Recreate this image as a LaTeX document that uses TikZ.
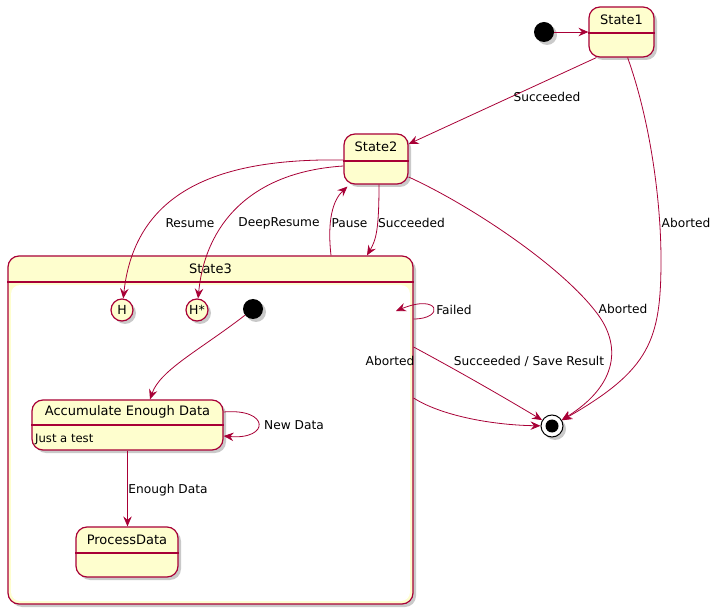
\documentclass[tikz,border=0pt]{standalone}
\usepackage{fontspec}
\setmainfont{DejaVu Sans}
\usetikzlibrary{arrows.meta,shadows,calc}
\definecolor{pfill}{HTML}{FEFECE}
\definecolor{pline}{HTML}{A80036}
\begin{document}
\begin{tikzpicture}[x=1pt,y=-1pt,
  shad/.style={drop shadow={shadow xshift=3pt,shadow yshift=-3pt,opacity=0.35,fill=black!60}},
  statebox/.style={draw=pline,line width=1.2pt,fill=pfill,rounded corners=11pt,inner sep=0pt,shad},
  divider/.style={draw=pline,line width=1.2pt},
  sname/.style={font=\fontsize{13}{15}\selectfont,inner sep=0pt},
  elabel/.style={font=\fontsize{12.2}{14}\selectfont,inner sep=0pt},
  conn/.style={draw=pline,line width=0.8pt,-{Stealth[length=10pt,width=8.5pt,inset=3.5pt]}},
  startdot/.style={circle,fill=black,minimum size=20pt,inner sep=0pt,shad},
  hist/.style={circle,draw=pline,line width=1.2pt,fill=pfill,minimum size=22pt,inner sep=0pt,font=\fontsize{12.5}{14}\selectfont,shad},
]
\useasboundingbox (0,0) rectangle (718,612);

% composite State3
\node[statebox,minimum width=405pt,minimum height=348pt] (s3) at (210.5,430) {};
\fill[white,rounded corners=9pt] (11,285) rectangle (410,601);
\draw[divider] (s3.west |- 0,282) -- (s3.east |- 0,282);
\node[sname] (s3t) at (210.5,269) {State3};

% State1
\node[statebox,minimum width=65pt,minimum height=50pt] (s1) at (621.5,32) {};
\draw[divider] (s1.west |- 0,33) -- (s1.east |- 0,33);
\node[sname] (s1t) at (621.5,20) {State1};

% State2
\node[statebox,minimum width=64pt,minimum height=50pt] (s2) at (376,159) {};
\draw[divider] (s2.west |- 0,161) -- (s2.east |- 0,161);
\node[sname] (s2t) at (376,147) {State2};

% Accumulate Enough Data
\node[statebox,minimum width=191pt,minimum height=50pt] (acc) at (127.5,425) {};
\draw[divider] (acc.west |- 0,425) -- (acc.east |- 0,425);
\node[sname] (acct) at (127.5,412) {Accumulate Enough Data};
\node[font=\fontsize{11.6}{13}\selectfont,inner sep=0pt,anchor=west] (accd) at (35,439) {Just a test};

% ProcessData
\node[statebox,minimum width=102pt,minimum height=50pt] (proc) at (127,552) {};
\draw[divider] (proc.west |- 0,553) -- (proc.east |- 0,553);
\node[sname] (proct) at (127,540) {ProcessData};

% pseudo states
\node[startdot] (i0) at (544,32) {};
\node[startdot] (i1) at (253,309) {};
\node[hist] (h) at (122,310) {H};
\node[hist] (hs) at (197,310) {H*};
\node[circle,draw=black,line width=1pt,fill=white,minimum size=22pt,inner sep=0pt,shad] (fin) at (552,426) {};
\node[circle,fill=black,minimum size=13pt,inner sep=0pt] (finc) at (fin) {};
\coordinate (floop) at (396,311);

% connectors
\draw[conn] (i0) -- (s1);
\draw[conn] ([xshift=8pt]s1.south west) -- (s2);
\draw[conn] ([xshift=-27pt]s1.south east) .. controls (650,120) and (661,200) .. (661,260)
  .. controls (661,340) and (650,370) .. (fin);
\draw[conn] ([yshift=-1pt]s2.west) .. controls (220,158) and (135,190) .. (h);
\draw[conn] ([yshift=-7pt]s2.west) .. controls (250,172) and (205,225) .. (hs);
\draw[conn] (331,0 |- s3.north) .. controls (327,220) and (333,200) .. ([xshift=4pt,yshift=-2pt]s2.south west);
\draw[conn] ([xshift=3pt]s2.south) .. controls (379,230) and (376,240) .. (367,0 |- s3.north);
\draw[conn] ([yshift=-18pt]s2.east) .. controls (470,205) and (560,265) .. (596,312)
  .. controls (622,345) and (618,385) .. (fin);
\draw[conn] (s3.east |- 0,319) .. controls (445,319) and (440,293) .. (floop);
\draw[conn] (s3.east |- 0,347) .. controls (460,372) and (500,395) .. (fin);
\draw[conn] (s3.east |- 0,398) .. controls (440,415) and (490,425) .. (fin);
\draw[conn] (i1) .. controls (200,350) and (160,370) .. (150,0 |- acc.north);
\draw[conn] (acc.east |- 0,412) .. controls (270,408) and (270,440) .. (acc.east |- 0,436);
\draw[conn] (acc.south) -- (acc.south |- proc.north);

% labels
\node[elabel] at (547,97) {Succeeded};
\node[elabel] at (686,223) {Aborted};
\node[elabel] at (190,223) {Resume};
\node[elabel] at (279,223) {DeepResume};
\node[elabel] at (349.5,223) {Pause};
\node[elabel] at (411.5,223) {Succeeded};
\node[elabel] at (623,309) {Aborted};
\node[elabel] at (454,310) {Failed};
\node[elabel] at (390,361) {Aborted};
\node[elabel] at (529,361) {Succeeded / Save Result};
\node[elabel] at (294,425) {New Data};
\node[elabel] at (168,490) {Enough Data};
\end{tikzpicture}
\end{document}
